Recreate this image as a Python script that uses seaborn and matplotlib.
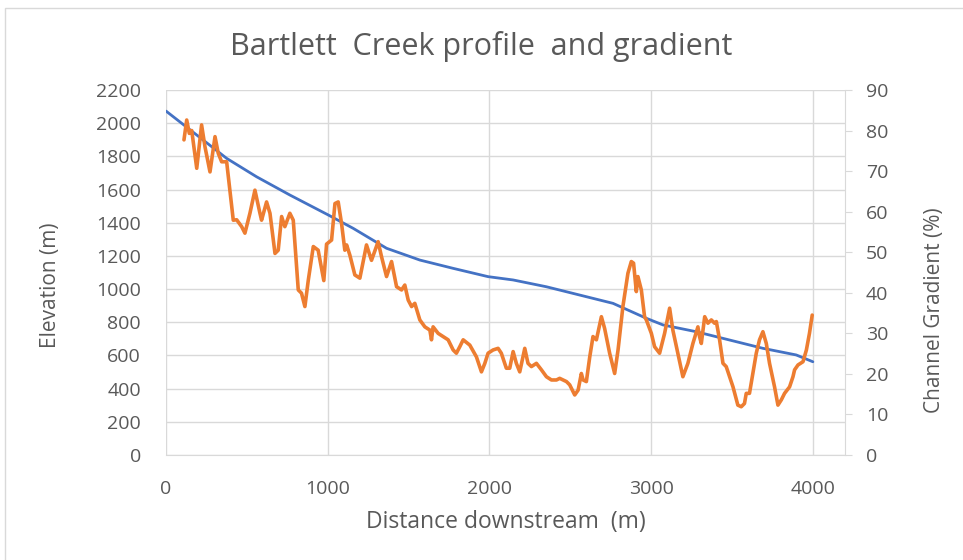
import numpy as np
import pandas as pd
import matplotlib
matplotlib.use("Agg")
import matplotlib.pyplot as plt
import seaborn as sns
from matplotlib.patches import Rectangle

# elevation profile (blue, left axis)
elev_dist = [0, 375, 560, 766, 1003, 1158, 1364, 1570, 1776, 1992, 2147, 2353,
             2559, 2765, 2971, 3074, 3280, 3486, 3692, 3898, 4001]
elevation = [2073, 1788, 1677, 1567, 1447, 1366, 1246, 1175, 1125, 1075, 1055, 1014,
             964, 914, 824, 784, 743, 693, 643, 603, 562]

# channel gradient (orange, right axis)
grad_dist = [111, 128, 144, 159, 190, 220, 241, 272, 303, 323, 344, 375, 416, 437, 468, 488,
             519, 550, 581, 591, 622, 643, 674, 694, 715, 735, 766, 787, 818, 838, 859, 880,
             911, 941, 976, 993, 1024, 1045, 1065, 1086, 1106, 1117, 1137, 1168, 1199, 1240,
             1271, 1312, 1333, 1364, 1395, 1426, 1457, 1477, 1498, 1519, 1539, 1570, 1601,
             1632, 1642, 1652, 1683, 1714, 1745, 1776, 1796, 1817, 1838, 1879, 1920, 1951,
             1972, 1992, 2023, 2054, 2074, 2105, 2126, 2147, 2167, 2188, 2219, 2239, 2260,
             2291, 2322, 2353, 2384, 2415, 2435, 2456, 2477, 2497, 2528, 2549, 2569, 2580,
             2600, 2621, 2641, 2662, 2693, 2713, 2744, 2775, 2796, 2826, 2857, 2878, 2892,
             2909, 2919, 2940, 2960, 2971, 3002, 3022, 3053, 3084, 3115, 3135, 3166, 3197,
             3228, 3259, 3290, 3300, 3311, 3332, 3352, 3373, 3393, 3404, 3424, 3445, 3465,
             3507, 3537, 3558, 3578, 3589, 3609, 3630, 3651, 3671, 3692, 3713, 3733, 3764,
             3785, 3806, 3826, 3857, 3878, 3888, 3909, 3940, 3961, 3980, 3997]
gradient = [77.7, 82.6, 79.3, 80, 70.7, 81.4, 76, 69.8, 78.5, 74.4, 72.3, 72.3, 57.9, 58, 56.3, 54.7,
            59.6, 65.3, 59.6, 57.9, 62.4, 59.6, 49.7, 50.5, 58.8, 56.3, 59.6, 57.9, 40.7, 39.9, 36.6, 43.1,
            51.4, 50.5, 43, 52, 53, 62, 62.4, 57, 50.5, 51.8, 49.3, 44.4, 43.6, 51.8,
            48, 52.6, 48.9, 44, 47.7, 41.5, 40.7, 41.9, 38.2, 36.6, 37.4, 33.3, 31.6,
            30.8, 28.4, 31.6, 30, 29.2, 28.4, 25.9, 25.1, 26.7, 28.4, 27.1, 24.2, 20.5,
            22.6, 25.1, 25.9, 26.3, 25.1, 21.4, 21.4, 25.5, 22.6, 20.5, 26.3, 22.6, 21.8,
            22.6, 21, 19.3, 18.5, 18.5, 18.9, 18.5, 18.1, 17.3, 14.8, 16, 20.1, 18.5,
            18.1, 24.2, 29.2, 28.4, 34.1, 31.2, 25.1, 20.1, 25.9, 36.6, 44.8, 47.7, 47.3,
            40.3, 44, 40.7, 34.1, 33.3, 30, 26.7, 25.1, 30, 36.2, 30.8, 25.1, 19.3,
            22.6, 27.5, 31.6, 29.2, 27.5, 34.1, 32.5, 33.3, 32.5, 32.9, 28.4, 22.6, 21.8,
            16.8, 12.3, 11.9, 12.7, 15.2, 15.2, 20.1, 25.1, 28.4, 30.4, 27.5, 22.6, 16.8,
            12.3, 13.6, 15.2, 16.8, 19.3, 21, 22.2, 23, 25.9, 30, 34.5]

df_elev = pd.DataFrame({"dist": elev_dist, "elev": elevation})
df_grad = pd.DataFrame({"dist": grad_dist, "grad": gradient})

sns.set_style("white")
plt.rcParams['font.family'] = ['Open Sans', 'DejaVu Sans']
text_col = "#595959"
grid_col = "#d9d9d9"

fig = plt.figure(figsize=(9.63, 5.6), dpi=100)
ax = fig.add_axes([0.1724, 0.1875, 0.7051, 0.6518])
ax2 = ax.twinx()

sns.lineplot(x="dist", y="elev", data=df_elev, ax=ax, color="#4472C4",
             linewidth=2.0, estimator=None, sort=False)
sns.lineplot(x="dist", y="grad", data=df_grad, ax=ax2, color="#ED7D31",
             linewidth=2.6, estimator=None, sort=False)

ax.set_xlim(0, 4200)
ax.set_ylim(0, 2200)
ax2.set_ylim(0, 90)
ax.set_xticks(range(0, 4001, 1000))
ax.set_yticks(range(0, 2201, 200))
ax2.set_yticks(range(0, 91, 10))

ax.grid(True, color=grid_col, linewidth=1)
ax.set_axisbelow(True)
for s in ["top", "left"]:
    ax.spines[s].set_visible(False)
    ax2.spines[s].set_visible(False)
ax.spines["right"].set_visible(False)
ax.spines["bottom"].set_color(grid_col)
ax2.spines["bottom"].set_visible(False)
ax2.spines["right"].set_color(grid_col)

ax.tick_params(axis="y", length=0, labelsize=14, labelcolor=text_col, pad=18)
ax.tick_params(axis="x", length=0, labelsize=14, labelcolor=text_col, pad=18)
ax2.tick_params(axis="y", length=5, color=grid_col, labelsize=14, labelcolor=text_col, pad=10)

ax.set_xlabel("Distance downstream  (m)", fontsize=16.5, color=text_col)
ax.xaxis.set_label_coords(0.5, -0.151)
ax.set_ylabel("Elevation (m)", fontsize=15, color=text_col)
ax.yaxis.set_label_coords(-0.154, 0.466)
ax2.set_ylabel("Channel Gradient (%)", fontsize=15, color=text_col)
ax2.yaxis.set_label_coords(1.116, 0.397)
fig.suptitle("Bartlett  Creek profile  and gradient", fontsize=22, color=text_col,
             y=0.917, va="center")

# chart area border
fig.patches.append(Rectangle((0.005, -0.01), 1.2, 0.995, transform=fig.transFigure,
                             fill=False, edgecolor=grid_col, linewidth=1))

fig.savefig("out.png", dpi=100)
